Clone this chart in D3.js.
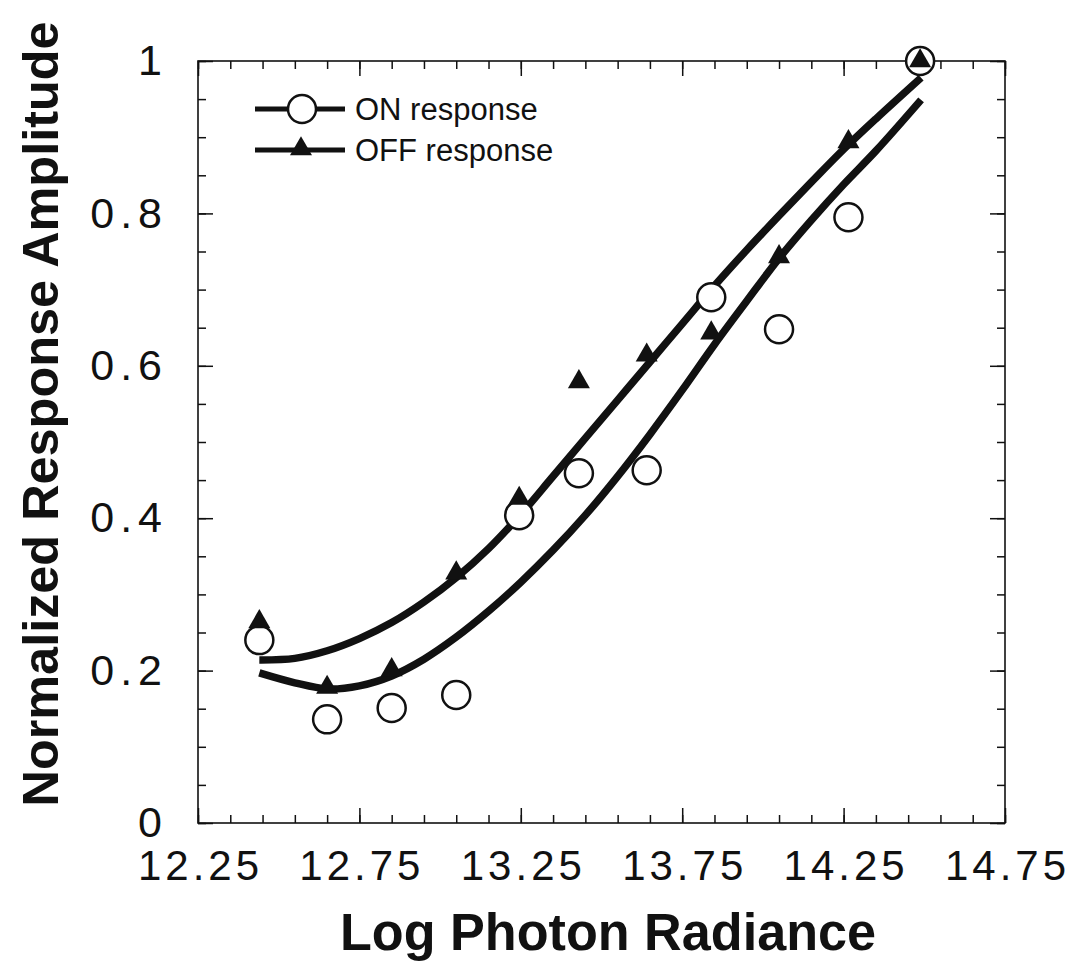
<!DOCTYPE html>
<html>
<head>
<meta charset="utf-8">
<script src="https://cdn.jsdelivr.net/npm/d3@7/dist/d3.min.js"></script>
<style>
  html, body { margin: 0; padding: 0; background: #fff; }
  svg { display: block; }
</style>
</head>
<body>
<svg id="chart" width="1076" height="964"></svg>
<script>
// ---- data ----
const logRadiance = [12.44, 12.65, 12.85, 13.05, 13.245, 13.43, 13.64, 13.84, 14.05, 14.265, 14.487];
const onResponse  = [0.240, 0.136, 0.151, 0.168, 0.404, 0.459, 0.463, 0.690, 0.648, 0.795, 1.0];
const offResponse = [0.264, 0.178, 0.201, 0.328, 0.426, 0.579, 0.614, 0.643, 0.743, 0.894, 1.0];

const fitX     = [12.44, 12.55, 12.65, 12.75, 12.85, 12.95, 13.05, 13.15, 13.25, 13.35, 13.45, 13.55, 13.65, 13.75, 13.85, 13.95, 14.05, 14.15, 14.25, 14.35, 14.49];
const fitUpper = [0.214, 0.216, 0.226, 0.242, 0.263, 0.290, 0.322, 0.360, 0.405, 0.455, 0.505, 0.555, 0.605, 0.655, 0.705, 0.752, 0.797, 0.841, 0.884, 0.924, 0.978];
const fitLower = [0.197, 0.184, 0.176, 0.180, 0.193, 0.215, 0.244, 0.278, 0.316, 0.358, 0.404, 0.455, 0.510, 0.568, 0.628, 0.685, 0.741, 0.791, 0.838, 0.882, 0.949];

const xMajorTicks = [12.25, 12.75, 13.25, 13.75, 14.25, 14.75];
const yMajorTicks = [0, 0.2, 0.4, 0.6, 0.8, 1];
const yTickLabels = ["0", "0.2", "0.4", "0.6", "0.8", "1"];
const legendLabels = ["ON response", "OFF response"];

// ---- layout ----
const svg = d3.select("#chart");
const x = d3.scaleLinear().domain([12.25, 14.75]).range([198, 1005]);
const y = d3.scaleLinear().domain([0, 1]).range([823, 61]);
const ink = "#111";
const font = "'Liberation Sans', Arial, Helvetica, sans-serif";

const xMinor = d3.range(0, 26).map(i => 12.25 + i * 0.1);
const yMinor = d3.range(0, 21).map(i => i * 0.05);

function styleAxis(g) {
  g.select(".domain").remove();
  g.selectAll(".tick line").attr("stroke", ink).attr("stroke-width", 1.5);
}

// minor ticks, all four sides (inward)
svg.append("g").attr("transform", `translate(0,${y(0)})`)
  .call(d3.axisBottom(x).tickValues(xMinor).tickSize(-8).tickFormat(""))
  .call(styleAxis);
svg.append("g").attr("transform", `translate(0,${y(1)})`)
  .call(d3.axisTop(x).tickValues(xMinor).tickSize(-8).tickFormat(""))
  .call(styleAxis);
svg.append("g").attr("transform", `translate(${x(12.25)},0)`)
  .call(d3.axisLeft(y).tickValues(yMinor).tickSize(-8).tickFormat(""))
  .call(styleAxis);
svg.append("g").attr("transform", `translate(${x(14.75)},0)`)
  .call(d3.axisRight(y).tickValues(yMinor).tickSize(-8).tickFormat(""))
  .call(styleAxis);

// major ticks with labels
const xAx = svg.append("g").attr("transform", `translate(0,${y(0)})`)
  .call(d3.axisBottom(x).tickValues(xMajorTicks).tickSize(-15).tickPadding(27).tickFormat(d3.format(".2f")))
  .call(styleAxis);
xAx.selectAll(".tick text")
  .attr("font-family", font).attr("font-size", 42).attr("fill", ink)
  .attr("dx", 2)
  .style("letter-spacing", "4px");

svg.append("g").attr("transform", `translate(0,${y(1)})`)
  .call(d3.axisTop(x).tickValues(xMajorTicks).tickSize(-15).tickFormat(""))
  .call(styleAxis);

const yAx = svg.append("g").attr("transform", `translate(${x(12.25)},0)`)
  .call(d3.axisLeft(y).tickValues(yMajorTicks).tickSize(-15).tickPadding(30)
    .tickFormat((d, i) => yTickLabels[i]))
  .call(styleAxis);
yAx.selectAll(".tick text")
  .attr("font-family", font).attr("font-size", 43).attr("fill", ink)
  .style("letter-spacing", "6px");

svg.append("g").attr("transform", `translate(${x(14.75)},0)`)
  .call(d3.axisRight(y).tickValues(yMajorTicks).tickSize(-15).tickFormat(""))
  .call(styleAxis);

// frame
svg.append("rect")
  .attr("x", x(12.25)).attr("y", y(1))
  .attr("width", x(14.75) - x(12.25)).attr("height", y(0) - y(1))
  .attr("fill", "none").attr("stroke", ink).attr("stroke-width", 1.6);

// fitted curves
const line = d3.line().curve(d3.curveCatmullRom.alpha(0.5));
[fitUpper, fitLower].forEach(arr => {
  svg.append("path")
    .attr("d", line(fitX.map((v, i) => [x(v), y(arr[i])])))
    .attr("fill", "none").attr("stroke", ink).attr("stroke-width", 7.5)
    .attr("stroke-linecap", "butt");
});

// ON points (open circles)
svg.append("g").selectAll("circle")
  .data(logRadiance.map((v, i) => [v, onResponse[i]]))
  .join("circle")
  .attr("cx", d => x(d[0])).attr("cy", d => y(d[1])).attr("r", 14)
  .attr("fill", "#fff").attr("stroke", ink).attr("stroke-width", 2.5);

// OFF points (filled triangles)
const tri = d3.symbol().type(d3.symbolTriangle).size(210);
svg.append("g").selectAll("path")
  .data(logRadiance.map((v, i) => [v, offResponse[i]]))
  .join("path")
  .attr("transform", d => `translate(${x(d[0])},${y(d[1])})`)
  .attr("d", tri).attr("fill", ink);

// legend
const legY = [109, 150];
legY.forEach((ly, i) => {
  svg.append("line").attr("x1", 255).attr("x2", 345).attr("y1", ly).attr("y2", ly)
    .attr("stroke", ink).attr("stroke-width", 5);
  if (i === 0) {
    svg.append("circle").attr("cx", 302).attr("cy", ly).attr("r", 14)
      .attr("fill", "#fff").attr("stroke", ink).attr("stroke-width", 2.5);
  } else {
    svg.append("path").attr("transform", `translate(301,${ly - 1})`).attr("d", tri).attr("fill", ink);
  }
  svg.append("text").attr("x", 355).attr("y", ly + 11)
    .attr("font-family", font).attr("font-size", 31).attr("fill", ink)
    .text(legendLabels[i]);
});

// axis titles
svg.append("text")
  .attr("transform", "translate(58,414) rotate(-90)")
  .attr("text-anchor", "middle")
  .attr("font-family", font).attr("font-weight", "bold").attr("font-size", 50).attr("fill", ink)
  .attr("textLength", 785).attr("lengthAdjust", "spacingAndGlyphs")
  .text("Normalized  Response  Amplitude");

svg.append("text")
  .attr("x", 608).attr("y", 950)
  .attr("text-anchor", "middle")
  .attr("font-family", font).attr("font-weight", "bold").attr("font-size", 51).attr("fill", ink)
  .attr("textLength", 536).attr("lengthAdjust", "spacingAndGlyphs")
  .text("Log  Photon  Radiance");
</script>
</body>
</html>
